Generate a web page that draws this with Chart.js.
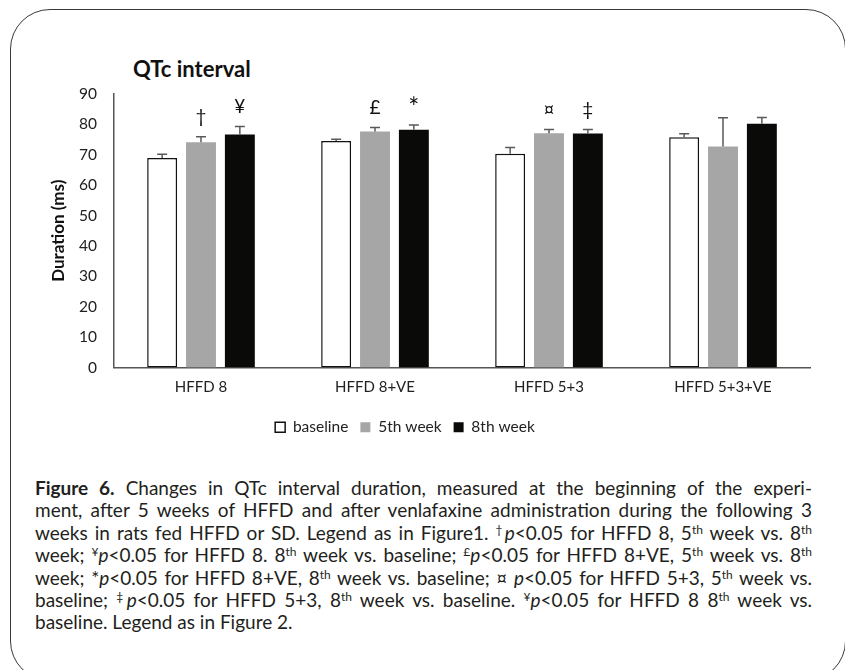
<!DOCTYPE html>
<html>
<head>
<meta charset="utf-8">
<script src="https://cdn.jsdelivr.net/npm/chart.js@4.4.1/dist/chart.umd.min.js"></script>
<style>
  html, body { margin: 0; padding: 0; background: #fff; }
  body { width: 845px; height: 670px; position: relative; overflow: hidden; font-family: Lato, "Open Sans", sans-serif; color: #231f20; }
  .frame { position: absolute; left: 10px; top: 9px; width: 834px; height: 670px; border: 1.5px solid #3a3a3a; border-radius: 40px; }
  .title { position: absolute; left: 133px; top: 55px; font-weight: bold; font-size: 22px; color: #111; }
  #wrap { position: absolute; left: 0; top: 0; width: 845px; height: 453px; }
  .caption { position: absolute; left: 35px; top: 477px; width: 777px; font-size: 19px; line-height: 22.4px; }
  .caption div { text-align: justify; text-align-last: justify; white-space: nowrap; }
  .caption div.last { text-align-last: left; }
  .caption sup { font-size: 12px; line-height: 0; vertical-align: 6px; }
</style>
</head>
<body>
<div class="frame"></div>
<div class="title">QTc interval</div>
<div id="wrap"><canvas id="chart"></canvas></div>
<div class="caption">
  <div><b>Figure 6.</b> Changes in QTc interval duration, measured at the beginning of the experi-</div>
  <div>ment, after 5 weeks of HFFD and after venlafaxine administration during the following 3</div>
  <div>weeks in rats fed HFFD or SD. Legend as in Figure1. <sup>†</sup><i>p</i>&lt;0.05 for HFFD 8, 5<sup>th</sup> week vs. 8<sup>th</sup></div>
  <div>week; <sup>¥</sup><i>p</i>&lt;0.05 for HFFD 8. 8<sup>th</sup> week vs. baseline; <sup>£</sup><i>p</i>&lt;0.05 for HFFD 8+VE, 5<sup>th</sup> week vs. 8<sup>th</sup></div>
  <div>week; *<i>p</i>&lt;0.05 for HFFD 8+VE, 8<sup>th</sup> week vs. baseline; ¤ <i>p</i>&lt;0.05 for HFFD 5+3, 5<sup>th</sup> week vs.</div>
  <div>baseline; <sup>‡</sup><i>p</i>&lt;0.05 for HFFD 5+3, 8<sup>th</sup> week vs. baseline. <sup>¥</sup><i>p</i>&lt;0.05 for HFFD 8 8<sup>th</sup> week vs.</div>
  <div class="last">baseline. Legend as in Figure 2.</div>
</div>
<script>
const groups = ["HFFD 8", "HFFD 8+VE", "HFFD 5+3", "HFFD 5+3+VE"];

const baseline = [68.9, 74.5, 70.3, 75.8];
const baselineErr = [1.3, 0.6, 2.1, 1.1];
const week5 = [74.1, 77.7, 77.1, 72.7];
const week5Err = [1.8, 1.3, 1.2, 9.5];
const week8 = [76.7, 78.2, 77.0, 80.2];
const week8Err = [2.6, 1.6, 1.3, 2.1];

// significance marks shown above the bars
const week5Marks = ["†", "£", "¤", ""];
const week8Marks = ["¥", "*", "‡", ""];

const yTicks = [0, 10, 20, 30, 40, 50, 60, 70, 80, 90];

const errorBars = {
  id: "errorBars",
  afterDatasetsDraw(chart) {
    const ctx = chart.ctx;
    const yScale = chart.scales.y;
    chart.data.datasets.forEach((ds, di) => {
      const meta = chart.getDatasetMeta(di);
      meta.data.forEach((bar, i) => {
        const top = yScale.getPixelForValue(ds.data[i] + ds.errors[i]);
        ctx.save();
        ctx.strokeStyle = "#5a5a5a";
        ctx.lineWidth = 1.5;
        ctx.beginPath();
        ctx.moveTo(bar.x, bar.y);
        ctx.lineTo(bar.x, top);
        ctx.moveTo(bar.x - 5, top);
        ctx.lineTo(bar.x + 5, top);
        ctx.stroke();
        const mark = ds.marks[i];
        if (mark) {
          ctx.fillStyle = "#111";
          // the asterisk glyph is tiny in Lato, so give it a bigger size
          ctx.font = mark === "*" ? "26px Lato, sans-serif" : "19px Lato, sans-serif";
          ctx.textAlign = "center";
          ctx.textBaseline = "middle";
          ctx.fillText(mark, bar.x, mark === "*" ? top - 16 : top - 20);
        }
        ctx.restore();
      });
    });
  }
};

new Chart(document.getElementById("chart"), {
  type: "bar",
  data: {
    labels: groups,
    datasets: [
      {
        label: "baseline",
        data: baseline,
        errors: baselineErr,
        marks: ["", "", "", ""],
        backgroundColor: "#ffffff",
        borderColor: "#111111",
        borderWidth: 1.5,
        borderSkipped: false
      },
      {
        label: "5th week",
        data: week5,
        errors: week5Err,
        marks: week5Marks,
        backgroundColor: "#a6a6a6",
        borderWidth: 0
      },
      {
        label: "8th week",
        data: week8,
        errors: week8Err,
        marks: week8Marks,
        backgroundColor: "#0a0a08",
        borderWidth: 0
      }
    ]
  },
  options: {
    responsive: true,
    maintainAspectRatio: false,
    animation: false,
    categoryPercentage: 0.67,
    barPercentage: 0.77,
    layout: { padding: { top: 94, right: 35, left: 0, bottom: 8 } },
    plugins: {
      tooltip: { enabled: false },
      legend: {
        position: "bottom",
        labels: {
          color: "#222",
          font: { family: "Lato", size: 15.5 },
          boxWidth: 10,
          boxHeight: 10,
          padding: 12,
          useBorderRadius: false
        }
      }
    },
    scales: {
      x: {
        grid: { display: false, drawTicks: false },
        border: { color: "#555", width: 1.5 },
        ticks: { color: "#222", font: { family: "Lato", size: 15 }, padding: 11 }
      },
      y: {
        min: 0,
        max: 90,
        afterFit(scale) { scale.width = 114; },
        afterBuildTicks(scale) { scale.ticks = yTicks.map(v => ({ value: v })); },
        grid: { display: false, drawTicks: false },
        border: { color: "#555", width: 1.5 },
        ticks: { color: "#222", font: { family: "Lato", size: 15.5 }, padding: 17 },
        title: {
          display: true,
          text: "Duration (ms)",
          color: "#111",
          font: { family: "Lato", size: 17, weight: "bold" },
          padding: { top: 48, bottom: 0 }
        }
      }
    }
  },
  plugins: [errorBars]
});
</script>
</body>
</html>
